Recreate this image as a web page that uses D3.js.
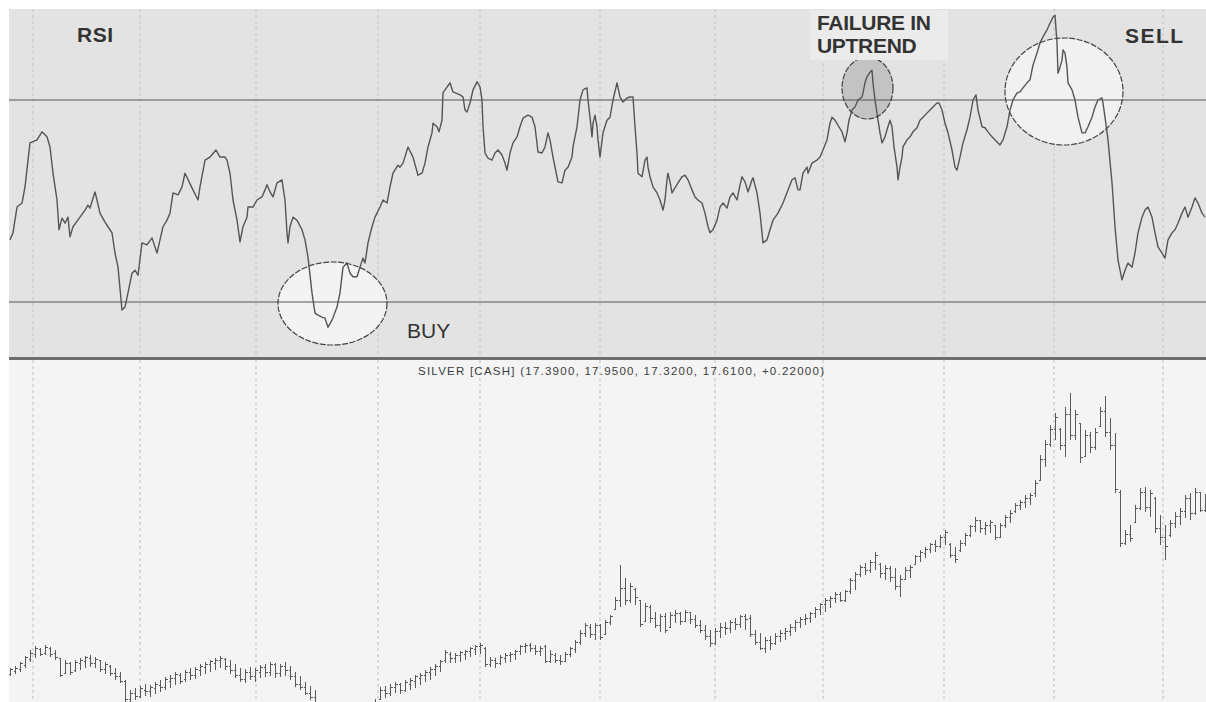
<!DOCTYPE html>
<html>
<head>
<meta charset="utf-8">
<script src="https://cdn.jsdelivr.net/npm/d3@7"></script>
<style>
  html, body { margin: 0; padding: 0; background: #ffffff; }
  svg { display: block; font-family: "Liberation Sans", Arial, sans-serif; }
</style>
</head>
<body>
<svg id="chart" width="1206" height="702"></svg>
<script>
// ---------------- DATA ----------------
const seriesTitle = "SILVER [CASH] (17.3900, 17.9500, 17.3200, 17.6100, +0.22000)";
const rsiLabel = "RSI";
const annotationTexts = ["BUY", "FAILURE IN", "UPTREND", "SELL"];
const rsiLevels = [70, 30];
// month separators (bar index positions)
const gridDays = [4.6, 26, 49.2, 73.6, 94, 118, 141, 162.6, 186.8, 208.8, 230.6];

// daily OHLC bars (240 trading days)
const openPrices = [
11.93,12.03,12.10,12.23,12.43,12.60,12.75,12.62,12.80,12.62,
12.45,11.95,12.28,12.05,12.30,12.35,12.45,12.30,12.38,12.10,
12.20,11.95,11.85,11.70,11.10,11.30,11.20,11.40,11.35,11.45,
11.55,11.50,11.70,11.80,11.90,11.75,12.00,11.90,12.05,12.15,
12.25,12.30,12.40,12.42,12.20,12.05,11.90,11.75,12.00,11.85,
12.00,12.15,12.00,12.25,11.95,12.20,12.05,11.85,11.60,11.50,
11.30,11.15,10.95,10.70,10.55,10.40,10.30,10.25,10.45,10.50,
10.60,10.65,10.80,10.90,11.10,11.40,11.30,11.50,11.60,11.40,
11.60,11.70,11.80,11.90,12.00,12.10,12.20,12.40,12.60,12.45,
12.55,12.60,12.70,12.75,12.85,12.80,12.25,12.40,12.30,12.45,
12.55,12.60,12.70,12.85,12.90,12.80,12.70,12.85,12.35,12.55,
12.40,12.35,12.60,12.75,13.00,13.30,13.50,13.25,13.55,13.25,
13.65,14.10,14.40,14.80,14.40,14.75,14.40,13.70,14.15,13.80,
13.55,13.85,13.50,13.90,13.95,13.70,14.00,13.75,13.55,13.40,
13.20,12.95,13.35,13.50,13.45,13.65,13.60,13.85,13.80,13.25,
13.00,12.80,13.05,12.95,13.20,13.30,13.35,13.50,13.65,13.75,
13.80,13.95,14.10,14.25,14.40,14.45,14.60,14.40,14.70,15.05,
15.25,15.50,15.40,15.65,15.60,15.30,15.45,15.15,14.85,15.10,
15.40,15.60,15.85,15.95,16.10,16.25,16.20,16.50,16.25,15.90,
16.05,16.30,16.55,16.85,17.05,16.80,16.90,16.88,16.50,16.90,
17.15,17.35,17.55,17.65,17.80,17.95,18.40,19.10,19.60,20.10,
20.10,19.55,20.60,19.90,20.30,19.20,19.90,19.50,20.20,20.70,
20.00,19.55,18.00,16.30,16.60,17.00,17.45,18.00,17.50,17.80,
16.80,16.50,16.55,16.95,17.20,17.35,17.80,17.30,18.00,17.39];
const highPrices = [
12.13,12.20,12.33,12.53,12.73,12.87,12.80,12.90,12.83,12.73,
12.47,12.40,12.33,12.40,12.47,12.53,12.57,12.50,12.40,12.33,
12.23,12.13,12.00,11.73,11.40,11.47,11.53,11.60,11.57,11.67,
11.73,11.83,11.90,12.00,11.97,12.07,12.13,12.17,12.27,12.33,
12.40,12.47,12.53,12.47,12.40,12.27,12.13,12.10,12.17,12.13,
12.23,12.27,12.33,12.30,12.27,12.33,12.20,12.00,11.87,11.67,
11.53,11.40,11.00,10.85,10.70,10.60,10.55,10.60,10.70,10.75,
10.80,10.90,11.00,11.10,11.50,11.53,11.60,11.67,11.63,11.73,
11.80,11.90,11.97,12.07,12.17,12.27,12.40,12.73,12.67,12.63,
12.70,12.73,12.83,12.90,12.97,12.83,12.50,12.47,12.57,12.63,
12.67,12.73,12.90,12.97,12.97,12.90,12.87,12.90,12.73,12.63,
12.57,12.67,12.83,13.07,13.40,13.63,13.60,13.63,13.60,13.73,
13.90,14.50,15.57,15.13,14.97,14.80,14.40,14.30,14.23,14.00,
13.93,13.97,14.00,14.07,14.00,14.07,14.00,13.90,13.73,13.57,
13.40,13.47,13.63,13.67,13.73,13.80,13.90,13.93,13.90,13.40,
13.30,13.17,13.20,13.30,13.40,13.47,13.60,13.73,13.83,13.93,
14.00,14.17,14.30,14.47,14.53,14.67,14.67,14.73,15.13,15.33,
15.57,15.63,15.73,16.00,15.63,15.57,15.53,15.47,15.23,15.50,
15.57,15.90,16.07,16.17,16.30,16.40,16.57,16.73,16.30,16.17,
16.40,16.63,16.90,17.17,17.07,17.00,17.07,16.90,16.97,17.23,
17.40,17.63,17.73,17.90,17.97,18.40,19.23,19.73,20.23,20.63,
20.13,20.83,21.30,20.73,20.30,20.07,20.00,20.13,20.83,21.20,
20.47,19.97,18.07,16.73,16.90,17.57,18.13,18.17,18.07,17.83,
17.23,16.90,17.07,17.33,17.47,17.90,17.97,18.13,18.00,17.95];
const lowPrices = [
11.87,11.93,12.00,12.13,12.33,12.47,12.53,12.57,12.50,12.40,
11.83,11.93,11.90,12.00,12.07,12.13,12.17,12.13,12.00,11.93,
11.87,11.73,11.63,11.00,11.00,11.07,11.13,11.20,11.17,11.27,
11.33,11.40,11.47,11.57,11.60,11.67,11.73,11.77,11.87,11.93,
12.00,12.07,12.13,12.07,11.93,11.80,11.67,11.63,11.73,11.67,
11.80,11.83,11.87,11.80,11.83,11.87,11.73,11.50,11.40,11.23,
11.07,10.90,10.60,10.45,10.30,10.20,10.15,10.20,10.30,10.35,
10.40,10.50,10.60,10.75,11.07,11.13,11.20,11.30,11.27,11.33,
11.40,11.47,11.57,11.67,11.73,11.87,12.00,12.30,12.30,12.30,
12.33,12.40,12.50,12.57,12.60,12.17,12.17,12.13,12.23,12.30,
12.33,12.40,12.57,12.63,12.67,12.57,12.53,12.30,12.30,12.30,
12.23,12.33,12.50,12.63,12.90,13.17,13.13,13.07,13.07,13.23,
13.57,14.07,14.17,14.23,14.30,14.23,13.50,13.67,13.63,13.47,
13.33,13.30,13.47,13.63,13.57,13.67,13.60,13.47,13.30,13.07,
12.83,12.90,13.13,13.23,13.30,13.40,13.47,13.40,13.17,12.90,
12.73,12.63,12.73,12.90,13.00,13.07,13.20,13.33,13.47,13.57,
13.63,13.80,13.90,14.00,14.13,14.30,14.33,14.33,14.60,14.73,
15.17,15.23,15.30,15.40,15.13,15.07,15.00,14.73,14.50,15.07,
15.13,15.57,15.67,15.80,15.97,16.00,16.13,16.23,15.80,15.63,
16.00,16.20,16.50,16.67,16.63,16.57,16.63,16.40,16.47,16.80,
16.97,17.30,17.40,17.47,17.57,17.83,18.40,18.83,19.50,19.73,
19.40,19.17,19.73,19.73,18.97,19.17,19.30,19.40,20.17,19.83,
19.40,17.97,16.17,16.23,16.33,16.97,17.40,17.33,17.17,16.63,
16.23,15.73,16.50,16.80,16.90,17.13,17.07,17.23,17.33,17.32];
const closePrices = [
12.07,12.13,12.27,12.47,12.63,12.80,12.60,12.83,12.60,12.47,
11.90,12.30,12.00,12.33,12.40,12.47,12.30,12.43,12.10,12.25,
11.95,11.85,11.70,11.10,11.30,11.20,11.45,11.35,11.50,11.60,
11.50,11.75,11.80,11.93,11.70,12.00,11.90,12.10,12.20,12.25,
12.35,12.40,12.45,12.20,12.05,11.90,11.75,12.00,11.85,12.05,
12.15,12.00,12.25,11.95,12.20,12.05,11.85,11.60,11.50,11.30,
11.15,10.95,10.70,10.55,10.40,10.30,10.25,10.45,10.50,10.60,
10.65,10.80,10.90,11.00,11.40,11.30,11.50,11.60,11.40,11.65,
11.72,11.85,11.90,12.00,12.10,12.20,12.35,12.65,12.45,12.55,
12.65,12.70,12.78,12.85,12.90,12.25,12.40,12.30,12.50,12.55,
12.60,12.68,12.85,12.90,12.80,12.70,12.80,12.35,12.60,12.40,
12.35,12.60,12.78,13.00,13.30,13.55,13.25,13.55,13.15,13.65,
13.85,14.40,14.80,14.40,14.85,14.50,13.60,14.20,13.80,13.55,
13.85,13.40,13.90,13.95,13.70,14.00,13.75,13.55,13.40,13.20,
12.95,13.35,13.50,13.45,13.65,13.60,13.85,13.75,13.25,13.00,
12.80,13.05,12.95,13.20,13.30,13.35,13.50,13.65,13.75,13.80,
13.95,14.10,14.25,14.40,14.45,14.60,14.40,14.70,15.05,15.25,
15.50,15.40,15.65,15.90,15.30,15.45,15.15,14.85,15.10,15.40,
15.50,15.85,16.00,16.10,16.25,16.20,16.50,16.65,15.90,15.75,
16.30,16.55,16.85,17.05,16.80,16.90,17.00,16.50,16.90,17.15,
17.30,17.55,17.65,17.80,17.90,18.30,19.10,19.60,20.10,20.50,
19.55,20.60,19.90,20.60,19.15,19.90,19.50,20.00,20.70,20.00,
19.55,18.10,16.30,16.60,16.45,17.45,18.00,17.50,17.95,16.80,
16.50,16.20,16.95,17.20,17.35,17.80,17.30,18.00,17.39,17.61];

// RSI line vertices: bar position and RSI value
const rsiDays = [
0,0.6,1.4,2.4,3,4,5.4,6.4,7.4,8,8.6,9.4,9.8,10.4,11,11.6,12,12.6,14,15,15.6,16,17,17.4,18,19,19.6,20.4,21,21.6,
22.4,23,23.6,24.4,25,25.6,26.4,27.4,28.4,29,29.4,30,30.6,31.4,32,32.6,33.6,34.4,35,36.4,37.6,38,39,40,41.2,42,43,43.4,44,44.6,
45.4,46,46.6,47.4,47.6,48.6,49.4,50.4,51,51.4,52,52.6,53.4,54.4,54.6,55,55.4,55.6,56,56.6,57.4,58.4,59,59.6,60.4,61,61.6,62.4,63,63.6,
64.4,65.4,66,66.6,67.4,68,68.6,69.4,70,70.6,71,71.6,72.4,73,74,74.6,75.4,76,76.6,77.6,78,
78.6,79.6,80.6,81.6,82.4,83,83.6,84.4,84.6,85.4,85.8,86.4,86.6,87,88,88.6,90,90.6,91,91.4,92,92.6,93.4,94,94.4,94.6,95,95.6,96.4,97,
97.6,98.4,99,99.4,100,100.6,101.4,102,102.6,103.6,104.4,105,105.6,106.4,107,107.6,108,108.6,109.6,110.4,111,111.6,112.4,112.6,113.4,114,114.6,115.4,115.6,116,
116.4,116.6,117,117.4,117.6,118,118.6,119.4,120,120.6,121.4,122,122.6,123.4,124,124.6,125,125.4,125.6,126.4,127,127.4,127.6,128,128.6,129.4,130,130.6,131,131.4,
131.6,132,132.4,133,133.6,134.4,135,135.6,136.4,137,137.6,138.4,139,139.6,140,140.6,141.4,142,142.6,143.4,144,144.6,145.4,146,146.4,147,147.6,148.4,148.6,149.4,
150,150.6,151.4,152,152.6,153.6,154.6,155.6,156.4,157,157.6,158,
158.6,159.4,159.6,160.4,161.4,162,162.6,163.4,164,164.4,165,165.6,166.4,167,167.4,167.8,168.4,169,169.6,170.4,170.6,171,171.4,172,172.4,172.6,173,173.4,173.6,174,
174.4,175,175.4,176,176.4,176.8,177.4,177.6,178,178.4,178.6,179.4,180,180.6,181.4,182,182.6,183.4,184,184.6,185.4,185.8,186.4,187,187.6,188.4,189,189.4,190,190.6,
191.4,192,192.6,193.2,193.6,194.4,195,195.6,196.4,197.4,198,198.6,199.4,200,200.6,201.4,202,202.6,203.4,204,204.6,205.4,206,206.6,207.4,208,208.6,209,209.4,209.6,
210,210.4,210.6,211,211.4,211.6,212.4,213,213.6,214.4,215,215.6,216.4,217,217.6,218.4,218.6,219,219.6,220.4,221,221.6,222.4,223,223.6,224.4,225,225.6,226.4,227,
227.6,228.4,229,229.6,230.4,231,231.6,232.4,233,233.6,234.4,235,235.6,236.4,237,237.6,238.4,239];
const rsiValues = [
42.3,43.7,48.8,49.6,52.8,61.5,62.1,63.7,62.7,60.7,55.5,50.2,44.3,46.6,45.6,46.8,42.9,44.9,46.8,48.2,49.2,48.6,51.8,50.2,47.6,45.8,44.9,43.7,39.7,36.9,
28.4,29.0,31.8,35.7,36.3,35.3,41.7,41.3,42.7,40.9,39.7,42.3,44.9,46.2,47.6,51.6,51.2,52.8,55.5,52.6,50.2,52.8,58.1,58.7,60.1,58.7,58.7,58.1,55.5,50.2,
46.2,41.9,44.9,46.8,48.8,48.8,50.2,50.8,52.2,53.2,51.8,50.8,53.6,54.2,52.8,50.2,43.7,41.7,44.9,46.8,46.2,44.3,42.3,38.9,31.8,27.8,27.4,27.0,26.8,25.0,
26.4,29.0,31.8,36.9,37.7,35.7,35.0,35.0,36.9,38.7,37.7,41.7,44.9,46.8,48.8,50.2,49.6,52.8,55.5,57.1,56.7,
57.5,60.7,58.7,55.1,55.5,57.5,60.7,63.5,65.4,64.7,63.7,66.0,71.4,72.0,73.4,71.6,71.0,70.6,68.0,67.6,69.4,72.0,73.6,72.6,70.0,64.7,59.5,58.5,58.1,59.5,
60.1,59.1,57.5,56.1,59.5,61.5,62.7,64.7,66.4,67.0,66.6,64.7,59.7,59.5,60.7,63.5,62.1,58.7,53.8,53.6,56.1,56.7,58.7,60.7,64.7,70.0,72.0,72.4,70.0,66.6,
62.7,65.4,67.0,64.7,62.1,58.7,63.5,66.0,66.6,70.0,73.4,70.6,69.6,70.4,70.6,70.6,64.7,59.5,55.5,54.8,58.1,58.7,56.7,54.8,52.8,51.6,50.2,48.2,50.2,54.2,
55.5,53.8,51.6,52.6,53.6,54.8,55.1,54.2,52.2,50.8,50.2,49.6,47.6,44.9,43.7,44.3,46.2,48.8,49.6,48.6,50.8,51.6,50.2,53.2,54.8,53.8,51.8,54.2,54.6,51.6,
47.6,41.7,42.3,44.3,46.2,47.6,49.6,52.2,54.2,54.6,52.2,52.2,
55.5,56.7,55.5,57.5,58.1,58.7,60.1,62.1,65.4,66.6,66.0,65.0,63.7,61.7,63.5,66.0,68.0,68.6,70.0,70.6,71.4,73.4,74.6,75.5,75.9,73.4,70.0,67.4,66.0,63.5,
61.5,62.7,64.1,66.0,64.7,60.7,56.7,54.2,56.7,58.7,60.7,62.1,62.7,63.7,64.5,66.0,66.6,67.4,68.0,68.6,69.4,69.4,68.0,65.4,63.5,60.1,56.7,56.1,58.7,61.5,
64.1,66.6,70.0,71.0,68.0,64.7,64.5,63.7,62.7,61.7,61.1,62.1,64.7,68.0,70.0,71.4,71.6,72.4,73.4,74.0,76.9,79.3,81.3,82.5,83.9,85.2,86.4,86.8,81.3,75.3,
76.5,77.9,79.9,79.3,76.5,73.4,72.0,70.0,66.6,63.5,63.5,64.7,66.6,68.6,70.0,70.4,69.4,66.6,62.1,53.6,44.9,38.3,34.4,36.3,37.7,36.9,39.7,43.7,46.8,48.2,
48.8,46.8,43.7,40.9,39.7,38.7,42.3,43.7,44.3,45.6,47.6,48.8,46.8,48.8,50.6,49.6,47.6,46.8];

// ---------------- DRAW ----------------
const svg = d3.select("#chart");
const W = 1206, H = 702;
const panelTop = {x0: 9, y0: 9, y1: 358};
const panelBot = {y0: 360, y1: 702};

const x = d3.scaleLinear().domain([0, 239]).range([10, 1205]);
const yRsi = d3.scaleLinear().domain([30, 70]).range([302, 100]);
const yPrice = d3.scaleLinear().domain([11, 21.5]).range([702, 387]);

svg.append("rect").attr("width", W).attr("height", H).attr("fill", "#ffffff");

const defs = svg.append("defs");
defs.append("clipPath").attr("id", "clipTop").append("rect")
  .attr("x", panelTop.x0).attr("y", panelTop.y0).attr("width", W - panelTop.x0).attr("height", panelTop.y1 - panelTop.y0);
defs.append("clipPath").attr("id", "clipBot").append("rect")
  .attr("x", panelTop.x0).attr("y", panelBot.y0 + 2).attr("width", W - panelTop.x0).attr("height", panelBot.y1 - panelBot.y0);

// panels
svg.append("rect").attr("x", panelTop.x0).attr("y", panelTop.y0)
  .attr("width", W - panelTop.x0).attr("height", panelTop.y1 - panelTop.y0)
  .attr("fill", "#e3e3e3");
svg.append("rect").attr("x", panelTop.x0).attr("y", panelBot.y0)
  .attr("width", W - panelTop.x0).attr("height", panelBot.y1 - panelBot.y0)
  .attr("fill", "#f4f4f4");

// dashed vertical grid lines (both panels)
[[panelTop.y0, panelTop.y1, "#c2c2c2"], [panelBot.y0, panelBot.y1, "#bdbdbd"]].forEach(([a, b, col]) => {
  svg.append("g").selectAll("line").data(gridDays).join("line")
    .attr("x1", d => x(d)).attr("x2", d => x(d))
    .attr("y1", a).attr("y2", b)
    .attr("stroke", col).attr("stroke-width", 1)
    .attr("stroke-dasharray", "3,3");
});

// annotation ellipses (fills)
const ellipses = [
  {cx: 332.5, cy: 303.5, rx: 54.5, ry: 41.5, fill: "#f3f3f3"},
  {cx: 867.5, cy: 88, rx: 25.5, ry: 31, fill: "#c3c3c3"},
  {cx: 1064, cy: 91.5, rx: 59, ry: 53.5, fill: "#f1f1f1"}
];
const eg = svg.append("g").attr("clip-path", "url(#clipTop)");
eg.selectAll("ellipse").data(ellipses).join("ellipse")
  .attr("cx", d => d.cx).attr("cy", d => d.cy).attr("rx", d => d.rx).attr("ry", d => d.ry)
  .attr("fill", d => d.fill);

// overbought / oversold lines
svg.append("g").selectAll("line").data(rsiLevels).join("line")
  .attr("x1", panelTop.x0).attr("x2", W)
  .attr("y1", d => yRsi(d)).attr("y2", d => yRsi(d))
  .attr("stroke", "#555").attr("stroke-width", 1);

// RSI line
const rsiPts = rsiDays.map((d, i) => [d, rsiValues[i]]);
svg.append("path").datum(rsiPts)
  .attr("clip-path", "url(#clipTop)")
  .attr("fill", "none").attr("stroke", "#555").attr("stroke-width", 1.4)
  .attr("stroke-linejoin", "round")
  .attr("d", d3.line().x(d => x(d[0])).y(d => yRsi(d[1])));

// ellipse outlines
svg.append("g").selectAll("ellipse").data(ellipses).join("ellipse")
  .attr("cx", d => d.cx).attr("cy", d => d.cy).attr("rx", d => d.rx).attr("ry", d => d.ry)
  .attr("fill", "none").attr("stroke", "#444").attr("stroke-width", 1.2)
  .attr("stroke-dasharray", "6,1.5");

// labels
svg.append("rect").attr("x", 810).attr("y", 10).attr("width", 138).attr("height", 50).attr("fill", "#ebebeb");
const labelStyle = sel => sel.attr("fill", "#333").attr("font-size", 21).attr("font-weight", "bold");
labelStyle(svg.append("text").attr("x", 77).attr("y", 42).attr("letter-spacing", 0.5).text(rsiLabel));
labelStyle(svg.append("text").attr("x", 407).attr("y", 338).text(annotationTexts[0])).attr("font-weight", "normal");
labelStyle(svg.append("text").attr("x", 817).attr("y", 30).attr("letter-spacing", -0.3).text(annotationTexts[1]));
labelStyle(svg.append("text").attr("x", 817).attr("y", 53).attr("letter-spacing", -0.3).text(annotationTexts[2]));
labelStyle(svg.append("text").attr("x", 1125).attr("y", 43).attr("letter-spacing", 1.5).text(annotationTexts[3]));

// separator
svg.append("rect").attr("x", panelTop.x0).attr("y", 357).attr("width", W - panelTop.x0).attr("height", 3).attr("fill", "#6e6e6e");

// price title
svg.append("text").attr("x", 418).attr("y", 375)
  .attr("font-size", 11.5).attr("fill", "#3c3c3c")
  .attr("textLength", 406).attr("lengthAdjust", "spacing")
  .text(seriesTitle);

// OHLC bars
const bars = openPrices.map((o, i) => ({i, o, h: highPrices[i], l: lowPrices[i], c: closePrices[i]}));
const bg = svg.append("g").attr("clip-path", "url(#clipBot)")
  .attr("stroke", "#5a5a5a").attr("stroke-width", 1).attr("shape-rendering", "crispEdges");
const bj = bg.selectAll("g").data(bars).join("g");
bj.append("line").attr("x1", d => Math.round(x(d.i)) + 0.5).attr("x2", d => Math.round(x(d.i)) + 0.5)
  .attr("y1", d => yPrice(d.h)).attr("y2", d => yPrice(d.l));
bj.append("line").attr("x1", d => Math.round(x(d.i)) - 1.5).attr("x2", d => Math.round(x(d.i)) + 0.5)
  .attr("y1", d => yPrice(d.o)).attr("y2", d => yPrice(d.o));
bj.append("line").attr("x1", d => Math.round(x(d.i)) + 0.5).attr("x2", d => Math.round(x(d.i)) + 2.5)
  .attr("y1", d => yPrice(d.c)).attr("y2", d => yPrice(d.c));
</script>
</body>
</html>
